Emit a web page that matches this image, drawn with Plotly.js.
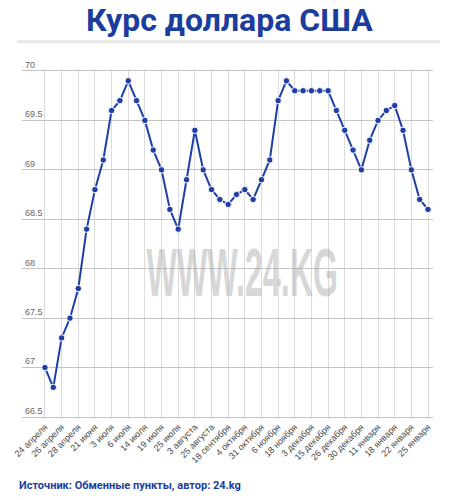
<!DOCTYPE html>
<html>
<head>
<meta charset="utf-8">
<script src="https://cdn.plot.ly/plotly-3.0.1.min.js"></script>
<style>html,body{margin:0;padding:0;background:#fff;}#chart{width:458px;height:500px;}</style>
</head>
<body>
<div id="chart"></div>
<script>
// Курс доллара США, 47 наблюдений
const rates = [67.0, 66.8, 67.3, 67.5, 67.8, 68.4, 68.8, 69.1, 69.6, 69.7,
  69.9, 69.7, 69.5, 69.2, 69.0, 68.6, 68.4, 68.9, 69.4, 69.0,
  68.8, 68.7, 68.65, 68.75, 68.8, 68.7, 68.9, 69.1, 69.7, 69.9,
  69.8, 69.8, 69.8, 69.8, 69.8, 69.6, 69.4, 69.2, 69.0, 69.3,
  69.5, 69.6, 69.65, 69.4, 69.0, 68.7, 68.6];
const tickLabels = ["24 апреля", "26 апреля", "28 апреля", "21 июня", "3 июля", "6 июля",
  "14 июля", "19 июля", "25 июля", "3 августа", "25 августа", "18 сентября",
  "4 октября", "31 октября", "6 ноября", "18 ноября", "3 декабря", "15 декабря",
  "26 декабря", "30 декабря", "11 января", "18 января", "22 января", "25 января"];
const yTicks = [66.5, 67, 67.5, 68, 68.5, 69, 69.5, 70];
const yTickText = ["66.5", "67", "67.5", "68", "68.5", "69", "69.5", "70"];

const xIdx = rates.map((_, i) => i);
const tickVals = tickLabels.map((_, i) => i * 2);

const W = 458, H = 500;
const M = {l: 22, r: 25, t: 69.3, b: 81.4};
const plotW = W - M.l - M.r, plotH = H - M.t - M.b;
const px = x => (x - M.l) / plotW;
const py = y => (H - M.b - y) / plotH;

const blue = '#1f3fa6';
const trace = {
  x: xIdx, y: rates, type: 'scatter', mode: 'lines+markers',
  line: {color: blue, width: 2},
  marker: {color: blue, size: 6.5, line: {color: '#ffffff', width: 1}},
  hoverinfo: 'skip'
};

const layout = {
  width: W, height: H,
  margin: M,
  paper_bgcolor: '#ffffff', plot_bgcolor: '#ffffff',
  showlegend: false,
  font: {family: 'Liberation Sans, Arial, sans-serif', color: '#555'},
  xaxis: {
    range: [-2.76, 46.6], tickvals: tickVals, ticktext: tickLabels,
    tickangle: -45, tickfont: {size: 9, color: '#4a4a4a'},
    showgrid: true, gridcolor: '#dcdcdc', gridwidth: 1,
    zeroline: false, showline: false, ticks: '', fixedrange: true
  },
  yaxis: {
    range: [66.48, 70.02], tickvals: yTicks, ticktext: yTickText,
    ticklabelposition: 'inside top', ticklabeloverflow: 'allow',
    tickfont: {size: 9, color: '#666'},
    showgrid: true, gridcolor: '#c4c4c4', gridwidth: 1,
    zeroline: false, showline: false, ticks: '', fixedrange: true
  },
  shapes: [{
    type: 'line', xref: 'paper', yref: 'paper',
    x0: px(17), x1: px(440), y0: py(42), y1: py(42),
    line: {color: '#e8e8e8', width: 3}
  }],
  annotations: [
    {text: '<b>Курс доллара США</b>', xref: 'paper', yref: 'paper',
     x: px(229), y: py(20), xanchor: 'center', yanchor: 'middle',
     showarrow: false, font: {family: 'Roboto, sans-serif', size: 32, color: '#1b3d9e'}},
    {text: '<b>WWW.24.KG</b>', xref: 'paper', yref: 'paper',
     x: px(242), y: py(272), xanchor: 'center', yanchor: 'middle',
     showarrow: false, font: {family: 'Liberation Sans, sans-serif', size: 62, color: 'rgba(165,165,165,0.45)'}},
    {text: '<b>Источник: Обменные пункты, автор: 24.kg</b>', xref: 'paper', yref: 'paper',
     x: px(17), y: py(485), xanchor: 'left', yanchor: 'middle',
     showarrow: false, font: {family: 'Roboto, sans-serif', size: 11, color: '#1b3d9e'}}
  ]
};

Plotly.newPlot('chart', [trace], layout, {displayModeBar: false, staticPlot: true}).then(gd => {
  // condense the watermark horizontally
  const ann = gd.querySelectorAll('.annotation')[1];
  if (ann) {
    const txt = ann.querySelector('text');
    const bb = txt.getBBox();
    const cx = bb.x + bb.width / 2, cy = bb.y + bb.height / 2;
    txt.setAttribute('transform', `translate(${cx},${cy}) scale(0.52,1.1) translate(${-cx},${-cy})`);
  }
});
</script>
</body>
</html>
